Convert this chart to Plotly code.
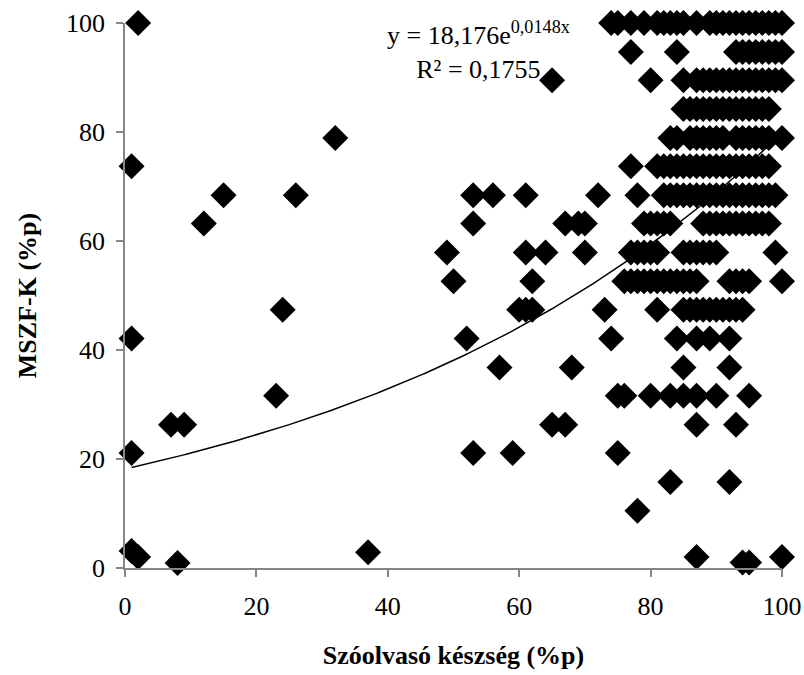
import numpy as np
import plotly.graph_objects as go

# ---- data: x values (Szóolvasó készség, %p) grouped by MSZF-K level (%p) ----
x_at_100 = [2, 74, 75, 77, 79, 81, 82, 83, 84, 85, 87, 89, 90, 91, 92, 93, 94, 95, 96, 97, 98, 99, 100]
x_at_94_7 = [77, 84, 93, 94, 95, 96, 97, 98, 99, 100]
x_at_89_5 = [65, 80, 85, 87, 88, 89, 90, 91, 92, 93, 94, 95, 96, 97, 98, 99, 100]
x_at_84_2 = [85, 86, 87, 88, 89, 90, 91, 92, 93, 94, 95, 96, 97, 98]
x_at_78_9 = [32, 83, 84, 86, 87, 88, 89, 90, 91, 93, 94, 95, 96, 97, 98, 100]
x_at_73_7 = [1, 77, 81, 82, 83, 84, 85, 86, 87, 88, 89, 90, 91, 92, 93, 94, 95, 96, 97, 98]
x_at_68_4 = [15, 26, 53, 56, 61, 72, 78, 82, 83, 84, 85, 86, 87, 88, 89, 90, 91, 92, 93, 94, 95, 96, 97, 98, 99]
x_at_63_2 = [12, 53, 67, 69, 70, 79, 80, 81, 82, 83, 88, 89, 90, 91, 92, 93, 94, 95, 96, 97, 98]
x_at_57_9 = [49, 61, 64, 70, 77, 78, 79, 80, 81, 85, 86, 87, 88, 89, 90, 99]
x_at_52_6 = [50, 62, 76, 77, 78, 79, 80, 81, 82, 83, 84, 85, 86, 87, 92, 93, 94, 95, 100]
x_at_47_4 = [24, 60, 61, 62, 73, 81, 85, 86, 87, 88, 89, 90, 91, 92, 93, 94]
x_at_42_1 = [1, 52, 74, 84, 87, 89, 92]
x_at_36_8 = [57, 68, 85, 92]
x_at_31_6 = [23, 75, 76, 80, 83, 85, 87, 90, 95]
x_at_26_3 = [7, 9, 65, 67, 87, 93]
x_at_21_1 = [1, 53, 59, 75]
x_at_15_8 = [83, 92]
x_at_10_5 = [78]
low_x = [1, 2, 8, 37, 87, 94, 95, 100]
low_y = [3.1, 2.0, 0.9, 2.9, 2.0, 1.0, 1.0, 2.0]

levels = [
    (100.0, x_at_100), (94.7, x_at_94_7), (89.5, x_at_89_5), (84.2, x_at_84_2),
    (78.9, x_at_78_9), (73.7, x_at_73_7), (68.4, x_at_68_4), (63.2, x_at_63_2),
    (57.9, x_at_57_9), (52.6, x_at_52_6), (47.4, x_at_47_4), (42.1, x_at_42_1),
    (36.8, x_at_36_8), (31.6, x_at_31_6), (26.3, x_at_26_3), (21.1, x_at_21_1),
    (15.8, x_at_15_8), (10.5, x_at_10_5),
]

xs, ys = [], []
for lvl, row in levels:
    xs += row
    ys += [lvl] * len(row)
xs += low_x
ys += low_y

# exponential trendline shown on the chart
trend_a = 18.176
trend_b = 0.0148
tick_vals = [0, 20, 40, 60, 80, 100]

FONT = "Liberation Serif, Times New Roman, serif"
FS = 26

fig = go.Figure()
fig.add_trace(go.Scatter(
    x=xs, y=ys, mode="markers",
    marker=dict(symbol="diamond", size=20, color="black", line=dict(width=0)),
    cliponaxis=False, showlegend=False, hoverinfo="x+y",
))
tx = np.linspace(min(xs), max(xs), 200)
fig.add_trace(go.Scatter(
    x=tx, y=trend_a * np.exp(trend_b * tx), mode="lines",
    line=dict(color="black", width=1.5), showlegend=False, hoverinfo="skip",
))

fig.add_annotation(
    x=53.8, y=94.9, xref="x", yref="y", showarrow=False, align="center",
    text="y = 18,176e<sup>0,0148x</sup><br>R² = 0,1755",
    font=dict(family=FONT, size=FS, color="black"),
)

axis_common = dict(
    range=[0, 100], tickvals=tick_vals, showgrid=False, zeroline=False,
    showline=True, linecolor="#868686", linewidth=1.5,
    ticks="outside", ticklen=7, tickcolor="#868686", tickwidth=1.5,
    tickfont=dict(family=FONT, size=FS, color="black"), automargin=False,
)

fig.update_layout(
    width=804, height=675,
    margin=dict(l=125, r=22, t=23, b=107),
    plot_bgcolor="white", paper_bgcolor="white",
    xaxis=dict(**axis_common, ticklabelstandoff=7,
               title=dict(text="<b>Szóolvasó készség (%p)</b>", standoff=26,
                          font=dict(family=FONT, size=FS, color="black"))),
    yaxis=dict(**axis_common, ticklabelstandoff=6,
               title=dict(text="<b>MSZF-K (%p)</b>", standoff=22,
                          font=dict(family=FONT, size=FS, color="black"))),
)

fig.write_html("out.html")
